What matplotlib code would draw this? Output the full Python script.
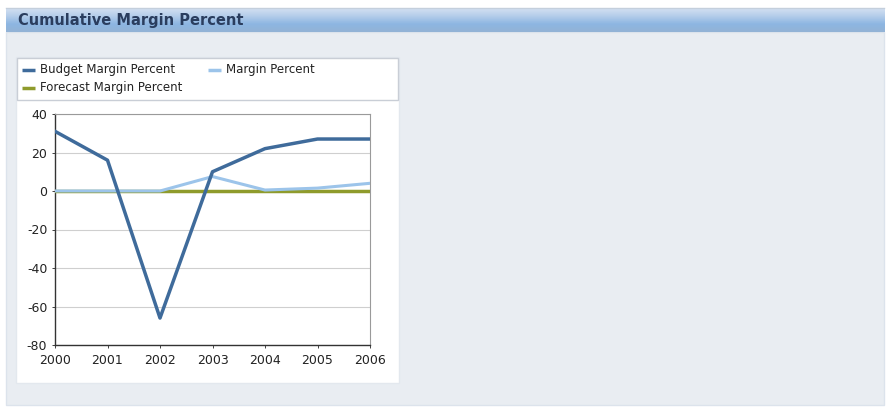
import matplotlib
matplotlib.use("Agg")
import matplotlib.pyplot as plt
import numpy as np
from matplotlib.patches import Rectangle
from matplotlib.colors import LinearSegmentedColormap

plt.rcParams["axes.unicode_minus"] = False

# ── Data ─────────────────────────────────────────────────────────────────────
years = [2000, 2001, 2002, 2003, 2004, 2005, 2006]
budget_margin = [31, 16, -66, 10, 22, 27, 27]
margin = [0, 0, 0, 7.5, 0.5, 1.5, 4]
forecast_margin = [0, 0, 0, 0, 0, 0, 0]
y_ticks = [40, 20, 0, -20, -40, -60, -80]

# ── Theme ────────────────────────────────────────────────────────────────────
PANEL = "#E9EDF2"
BUDGET = "#3F6B9B"
MARGIN = "#9CC4EA"
FORECAST = "#8F9B2C"
TITLE_TXT = "#2A3D5E"
GRID = "#CFCFCF"

W, H = 888, 409
fig = plt.figure(figsize=(W / 100, H / 100), dpi=100)
fig.patch.set_facecolor("white")


def px(x, y, w, h):
    """pixel box (top-left origin) -> figure fraction rect"""
    return [x / W, 1 - (y + h) / H, w / W, h / H]


# background canvas in pixel coords
bg = fig.add_axes([0, 0, 1, 1])
bg.set_xlim(0, W)
bg.set_ylim(H, 0)
bg.axis("off")

# panel body
bg.add_patch(Rectangle((6, 32), 878, 373, facecolor=PANEL, edgecolor="#DCE3EC", lw=1))

# title bar gradient
cmap = LinearSegmentedColormap.from_list("bar", ["#D3E0F2", "#B4CDEA", "#8DB6E2", "#93B3D6"])
bg.imshow(np.linspace(0, 1, 50).reshape(-1, 1), cmap=cmap, aspect="auto",
          extent=(6, 884, 32, 8), zorder=1)
bg.plot([6, 884], [8, 8], color="#C4CFDC", lw=1, zorder=2)
bg.text(18, 20, "Cumulative Margin Percent", ha="left", va="center",
        fontsize=10.5, fontweight="bold", color=TITLE_TXT, zorder=3)

# white chart card
bg.add_patch(Rectangle((16, 57), 383, 326, facecolor="white", edgecolor="#E3E8EE", lw=1, zorder=1))
# legend box
bg.add_patch(Rectangle((17, 58), 381, 42, facecolor="white", edgecolor="#C9CED6", lw=1, zorder=2))

# legend entries
legend_items = [
    (22, 70, BUDGET, "Budget Margin Percent"),
    (208, 70, MARGIN, "Margin Percent"),
    (22, 88, FORECAST, "Forecast Margin Percent"),
]
for lx, ly, col, lab in legend_items:
    bg.plot([lx, lx + 13], [ly, ly], color=col, lw=2.5, solid_capstyle="butt", zorder=3)
    bg.text(lx + 18, ly, lab, ha="left", va="center", fontsize=8.5,
            color="#222222", zorder=3)

# ── Plot axes ────────────────────────────────────────────────────────────────
ax = fig.add_axes(px(55, 114, 315, 231))
ax.set_facecolor("white")
ax.plot(years, forecast_margin, color=FORECAST, lw=2.5, zorder=3)
ax.plot(years, margin, color=MARGIN, lw=2.2, zorder=4)
ax.plot(years, budget_margin, color=BUDGET, lw=2.5, zorder=5)

ax.set_xlim(2000, 2006)
ax.set_ylim(-80, 40)
ax.set_yticks(y_ticks)
ax.set_xticks(years)
ax.set_xticklabels([str(y) for y in years])
ax.yaxis.grid(True, color=GRID, lw=0.8)
ax.set_axisbelow(True)
ax.tick_params(axis="both", labelsize=9, colors="#222222", length=2.5, width=0.6)
ax.tick_params(axis="x", pad=4)
ax.tick_params(axis="y", pad=3)
for s in ["top", "right"]:
    ax.spines[s].set_color("#9A9A9A")
    ax.spines[s].set_linewidth(0.8)
for s in ["left", "bottom"]:
    ax.spines[s].set_color("#333333")
    ax.spines[s].set_linewidth(1.0)

fig.savefig("out.png", dpi=100, facecolor="white")
